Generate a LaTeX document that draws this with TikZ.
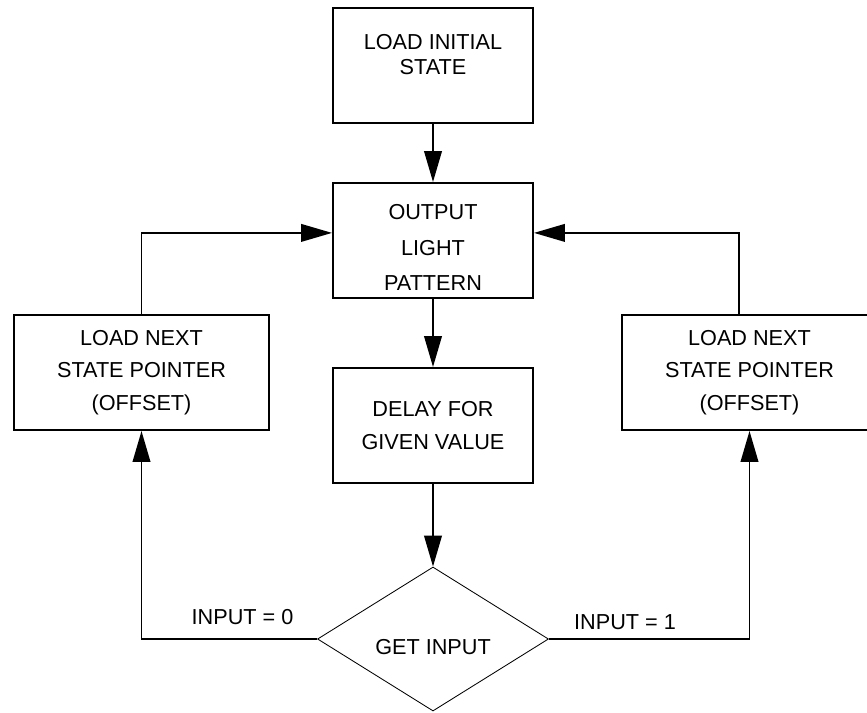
\documentclass[tikz,border=0pt]{standalone}
\usepackage{fontspec}
\setmainfont{Liberation Sans}
\usetikzlibrary{arrows.meta,shapes.geometric}

\begin{document}
\begin{tikzpicture}[
		box/.style={draw, line width=1.4pt, minimum width=5cm, minimum height=2.875cm, inner sep=0pt, align=center, font=\fontsize{15.4}{23}\selectfont},
		sidebox/.style={box, minimum width=6.375cm},
		boxtext/.style={align=center, inner sep=0pt, font=\fontsize{15.4}{23}\selectfont},
		decision/.style={draw, diamond, line width=0.6pt, minimum width=5.775cm, minimum height=3.6cm, inner sep=0pt},
		flow/.style={line width=1.4pt, -{Triangle[length=22pt,width=12.5pt]}}
	]
			%%%%% START %%%%%
			
			\useasboundingbox (0, 0) rectangle (21.675, -17.8);
			
			\node[box] (init) at (10.825, -1.6375) {};
			\node[boxtext] (inittext) at ([yshift=0.275cm]init.center) {LOAD INITIAL\\[-5.5pt]STATE};
			
			\node[box] (output) at (10.825, -6.0125) {};
			\node[boxtext] (outputtext) at ([yshift=-0.175cm]output.center) {OUTPUT\\[2pt]LIGHT\\[2pt]PATTERN};
			
			\node[box] (delay) at (10.825, -10.6375) {DELAY FOR\\GIVEN VALUE};
			
			\node[sidebox] (left) at (3.5375, -9.3125) {LOAD NEXT\\STATE POINTER\\(OFFSET)};
			\node[sidebox] (right) at (18.7375, -9.3125) {LOAD NEXT\\STATE POINTER\\(OFFSET)};
			
			\node[decision] (input) at (10.825, -15.975) {};
			\node[boxtext] (inputtext) at ([yshift=-0.2cm]input.center) {GET INPUT};
			
			\node[boxtext] (zero) at (6.0625, -15.425) {INPUT = 0};
			\node[boxtext] (one) at (15.625, -15.55) {INPUT = 1};
			
			\draw[flow] (init.south) -- (output.north);
			\draw[flow] (output.south) -- (delay.north);
			\draw[flow] (delay.south) -- (input.north);
			
			\draw[flow] (input.west) -| (left.south);
			\draw[flow] (input.east) -| (right.south);
			
			\draw[flow] (left.north) |- ([yshift=0.19cm]output.west);
			\draw[flow] ([xshift=-0.26cm]right.north) |- ([yshift=0.19cm]output.east);
			
			%%%%% END %%%%%
		\end{tikzpicture}
\end{document}
